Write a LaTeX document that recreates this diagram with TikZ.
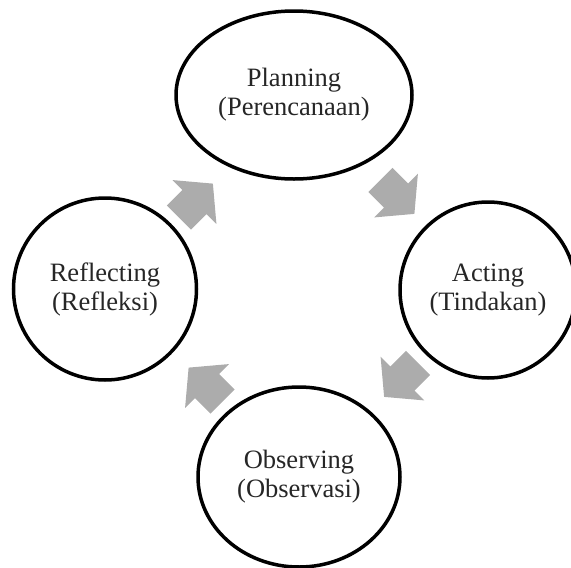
\documentclass[tikz,border=0pt]{standalone}
\usepackage{fontspec}
\setmainfont{Liberation Serif}
\usepackage{tikz}
\usetikzlibrary{shapes,calc}
\definecolor{arrowgray}{RGB}{172,172,172}
\tikzset{
phase/.style={draw, ellipse, line width=3.5pt, inner sep=0pt, align=center, text=black!85, font=\fontsize{26.5}{29}\selectfont}, % the four stages
flow/.pic={\fill[arrowgray] (-22,-17) -- (0,-17) -- (0,-31) -- (26,0) -- (0,31) -- (0,17) -- (-22,17) -- cycle;} % fat grey arrows
}

\begin{document}
\begin{tikzpicture}[x=1pt, y=-1pt]
        \useasboundingbox (0,0) rectangle (571,568);
        \node[phase, minimum width=236pt, minimum height=168pt] (plan) at (294,95) {Planning\\(Perencanaan)};
        \node[phase, minimum width=176pt, minimum height=176pt] (act) at (488,290) {Acting\\(Tindakan)};
        \node[phase, minimum width=202pt, minimum height=180pt] (obs) at (299,477) {Observing\\(Observasi)};
        \node[phase, minimum width=183pt, minimum height=182pt] (refl) at (105,289) {Reflecting\\(Refleksi)};
        % arrows between the stages
        \pic[rotate=45] at ($(refl)!0.5!(plan)+(-5,10)$) {flow};
        \pic[rotate=-45] at ($(plan)!0.5!(act)+(5,3)$) {flow};
        \pic[rotate=-135] at ($(act)!0.5!(obs)+(9,-5)$) {flow};
        \pic[rotate=135] at ($(obs)!0.5!(refl)+(5,3)$) {flow};
\end{tikzpicture}
\end{document}
